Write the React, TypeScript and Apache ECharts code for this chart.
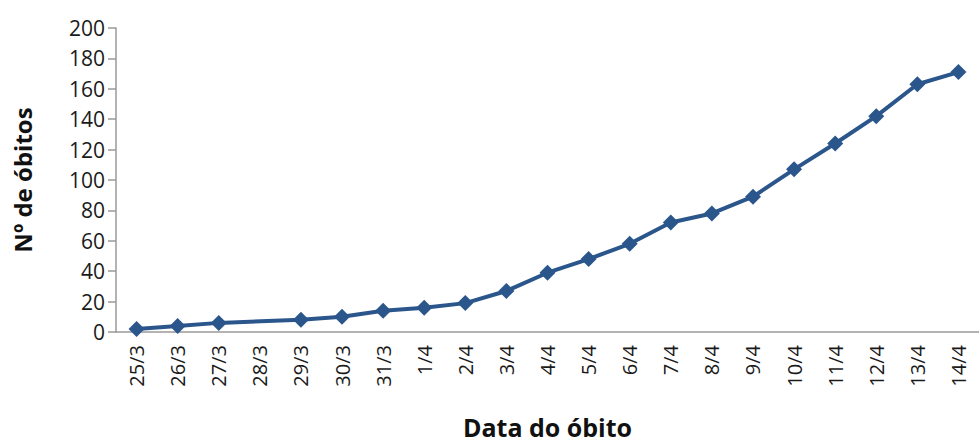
import React, { useEffect, useRef } from "react";
import * as echarts from "echarts";

const categories = ["25/3","26/3","27/3","28/3","29/3","30/3","31/3","1/4","2/4","3/4","4/4","5/4","6/4","7/4","8/4","9/4","10/4","11/4","12/4","13/4","14/4"];
const obitos: (number | null)[] = [2,4,6,null,8,10,14,16,19,27,39,48,58,72,78,89,107,124,142,163,171];
const yTicks = [0, 20, 40, 60, 80, 100, 120, 140, 160, 180, 200];

export default function App() {
  const ref = useRef<HTMLDivElement>(null);
  useEffect(() => {
    const chart = echarts.init(ref.current!, null, { renderer: "svg" });
    const font = "'Open Sans', Lato, sans-serif";
    chart.setOption({
      animation: false,
      grid: { left: 116, right: -4, top: 28, bottom: 108, containLabel: false },
      xAxis: {
        type: "category",
        data: categories,
        boundaryGap: true,
        axisLine: { lineStyle: { color: "#9a9a9a", width: 1.5 } },
        axisTick: { show: false },
        axisLabel: { rotate: 90, color: "#1a1a1a", fontSize: 20, fontFamily: font, margin: 13, interval: 0 },
        name: "Data do óbito",
        nameLocation: "middle",
        nameGap: 82,
        nameTextStyle: { fontSize: 25, fontWeight: "bold", color: "#111", fontFamily: font, verticalAlign: "top" },
      },
      yAxis: {
        type: "value",
        min: yTicks[0],
        max: yTicks[yTicks.length - 1],
        interval: 20,
        splitLine: { show: false },
        axisLine: { show: true, lineStyle: { color: "#9a9a9a", width: 1.5 } },
        axisTick: { show: true, length: 8, lineStyle: { color: "#9a9a9a", width: 1.5 } },
        axisLabel: { color: "#1a1a1a", fontSize: 21, fontFamily: font, margin: 11 },
        name: "Nº de óbitos",
        nameLocation: "middle",
        nameGap: 82,
        nameTextStyle: { fontSize: 24, fontWeight: "bold", color: "#111", fontFamily: font },
      },
      series: [
        {
          type: "line",
          data: obitos,
          connectNulls: true,
          symbol: "diamond",
          symbolSize: 16,
          lineStyle: { color: "#2b568b", width: 4 },
          itemStyle: { color: "#2b568b" },
        },
      ],
    });
    return () => chart.dispose();
  }, []);
  return <div ref={ref} style={{ position: "absolute", left: 0, top: 0, width: 979, height: 444 }} />;
}
